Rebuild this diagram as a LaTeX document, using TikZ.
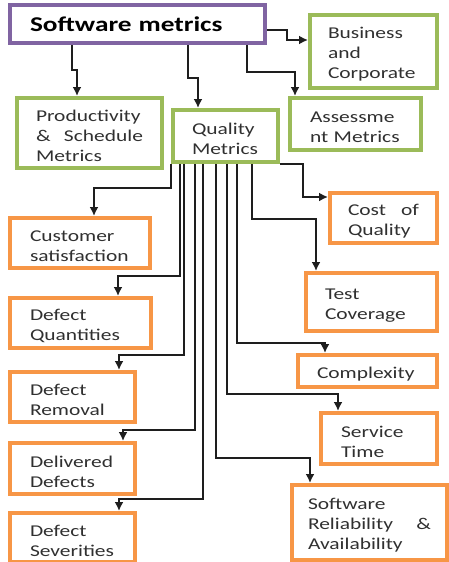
\documentclass[tikz,border=0pt]{standalone}
\usepackage{fontspec}
\setmainfont{Carlito}[FakeStretch=1.3]
\usepackage{tikz}
\usetikzlibrary{shapes,calc}
\usetikzlibrary{arrows.meta}
\definecolor{viola}{HTML}{8064A2}
\definecolor{verde}{HTML}{9BBB59}
\definecolor{arancio}{HTML}{F79646}
\definecolor{testo}{HTML}{303030}
\definecolor{linea}{HTML}{1E1E1E}
\tikzstyle{root} = [rectangle, draw=viola, line width=4pt, inner ysep=0pt, align=left,
font=\fontsize{21}{24}\selectfont\bfseries, text=black]
\tikzstyle{group} = [rectangle, draw=verde, line width=4pt, inner ysep=0pt, align=left,
font=\fontsize{16.5}{20}\selectfont, text=testo, execute at begin node=\rule{0pt}{17.5pt}]
\tikzstyle{metric} = [rectangle, draw=arancio, line width=4pt, inner ysep=0pt, align=left,
font=\fontsize{16.5}{20}\selectfont, text=testo, execute at begin node=\rule{0pt}{17.5pt}]
\tikzstyle{arrow} = [line width=1.8pt, draw=linea, ->, >={Latex[length=9pt,width=9pt]}]

\begin{document}
\begin{tikzpicture}[x=1pt,y=-1pt]
\useasboundingbox (0,0) rectangle (448,562);
% top level
\node (soft) at (137.5,24) [root, minimum width=255pt, minimum height=38pt, text width=215pt, inner xsep=20pt] {Software metrics};
\node (busi) at (373.5,51.5) [group, minimum width=127pt, minimum height=73pt, text width=91pt, inner xsep=18pt] {Business\\and\\Corporate};
\node (prod) at (89.5,133) [group, minimum width=145pt, minimum height=70pt, text width=107pt, inner xsep=19pt] {Productivity\\\&\hfill Schedule\\Metrics};
\node (qual) at (225.5,136) [group, minimum width=105pt, minimum height=52pt, text width=67pt, inner xsep=19pt] {Quality\\Metrics};
\node (asse) at (355.5,124) [group, minimum width=131pt, minimum height=52pt, text width=91pt, inner xsep=20pt] {Assessme\\nt Metrics};
\draw[arrow] (72,0 |- soft.south) |- (77,70) -- (77,0 |- prod.north);
\draw[arrow] (188,0 |- soft.south) |- (198,78) -- (198,0 |- qual.north);
\draw[arrow] (247,0 |- soft.south) |- (295,72) -- (295,0 |- asse.north);
\draw[arrow] (soft.east |- 0,30) -| (287,40) -- (busi.west |- 0,40);
% quality metrics, left column
\node (cust) at (80,243) [metric, minimum width=140pt, minimum height=50pt, text width=100pt, inner xsep=20pt] {Customer\\satisfaction};
\node (defq) at (80.5,323) [metric, minimum width=141pt, minimum height=50pt, text width=101pt, inner xsep=20pt] {Defect\\Quantities};
\node (defr) at (72.5,397) [metric, minimum width=125pt, minimum height=50pt, text width=85pt, inner xsep=20pt] {Defect\\Removal};
\node (deld) at (72.5,468.5) [metric, minimum width=125pt, minimum height=51pt, text width=85pt, inner xsep=20pt] {Delivered\\Defects};
\node (defs) at (72.5,537.5) [metric, minimum width=125pt, minimum height=49pt, text width=85pt, inner xsep=20pt] {Defect\\Severities};
% quality metrics, right column
\node (cost) at (383.5,218) [metric, minimum width=107pt, minimum height=50pt, text width=71pt, inner xsep=18pt] {Cost\hfill of\\Quality};
\node (test) at (371.5,302) [metric, minimum width=131pt, minimum height=58pt, text width=93pt, inner xsep=19pt] {Test\\Coverage};
\node (comp) at (367.5,371) [metric, minimum width=139pt, minimum height=32pt, text width=101pt, inner xsep=19pt] {Complexity};
\node (serv) at (379,438.5) [metric, minimum width=116pt, minimum height=51pt, text width=76pt, inner xsep=20pt] {Service\\Time};
\node (reli) at (369.5,522.5) [metric, minimum width=155pt, minimum height=75pt, text width=123pt, inner xsep=16pt] {Software\\Reliability\hfill\&\\Availability};
\draw[arrow] (qual.south west) |- (94,188) -- (94,0 |- cust.north);
\draw[arrow] (180,0 |- qual.south) |- (118,276) -- (118,0 |- defq.north);
\draw[arrow] (184,0 |- qual.south) |- (119,355) -- (119,0 |- defr.north);
\draw[arrow] (195,0 |- qual.south) |- (123,430) -- (123,0 |- deld.north);
\draw[arrow] (203,0 |- qual.south) |- (119,499) -- (119,0 |- defs.north);
\draw[arrow] (216,0 |- qual.south) |- (310,458) -- (310,0 |- reli.north);
\draw[arrow] (227,0 |- qual.south) |- (338,394) -- (338,0 |- serv.north);
\draw[arrow] (237,0 |- qual.south) |- (325,343) -- (325,0 |- comp.north);
\draw[arrow] (252,0 |- qual.south) |- (316,219) -- (316,0 |- test.north);
\draw[arrow] (qual.south east) -| (303,197) -- (cost.west |- 0,197);
\end{tikzpicture}
\end{document}
